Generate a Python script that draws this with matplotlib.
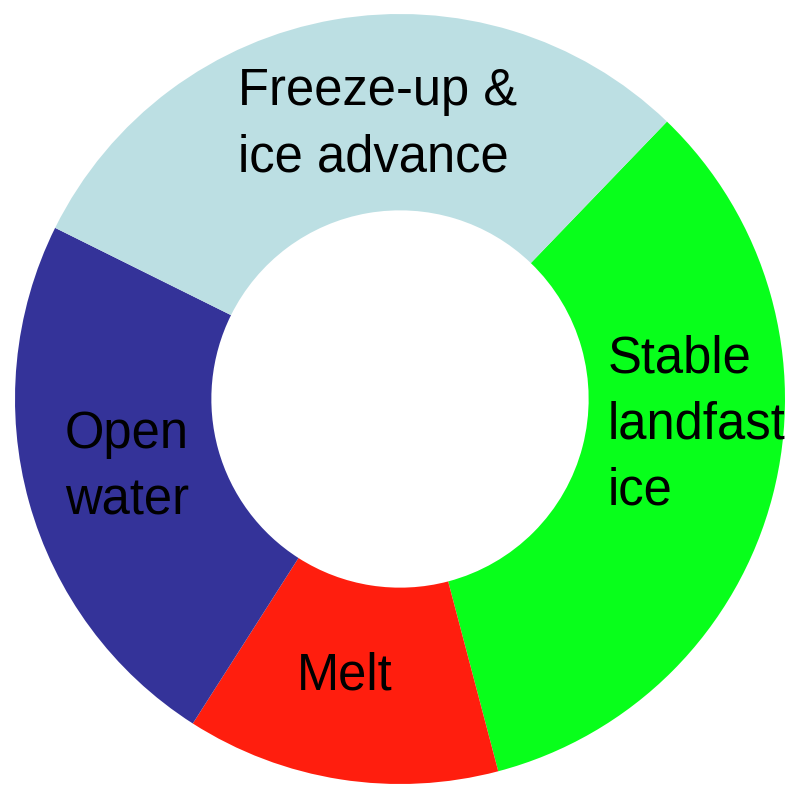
import matplotlib
matplotlib.use("Agg")
import matplotlib.pyplot as plt

# Data (approximate days in each phase of the annual cycle)
phases = ["Stable\nlandfast\nice", "Melt", "Open\nwater", "Freeze-up &\nice advance"]
days = [123, 48, 85, 109]
colors = ["#08FF1B", "#FF1E0E", "#343399", "#BCDFE3"]

W, H = 792, 786
fig = plt.figure(figsize=(W / 100, H / 100), dpi=100)
ax = fig.add_axes([0, 0, 1, 1])

R = 385.0
cx, cy = 400.0, 399.0

ax.pie(days, colors=colors, startangle=46.1, counterclock=False,
       radius=1.0, wedgeprops=dict(width=0.51, edgecolor="none", linewidth=0))

ax.set_xlim(-cx / R, (W - cx) / R)
ax.set_ylim(-(H - cy) / R, cy / R)
ax.set_aspect("auto")
ax.axis("off")

def px(x, y):
    return (x - cx) / R, (cy - y) / R

font = dict(family=["Liberation Sans", "DejaVu Sans"], fontsize=36.5, color="black",
            linespacing=1.45)

x, y = px(238, 125)
ax.text(x, y, phases[3], ha="left", va="center", multialignment="left", **font)
x, y = px(608, 425)
ax.text(x, y, phases[0], ha="left", va="center", multialignment="left", **font)
x, y = px(127, 468)
ax.text(x, y, phases[2], ha="center", va="center", multialignment="center", **font)
x, y = px(345, 676)
ax.text(x, y, phases[1], ha="center", va="center", **font)

fig.savefig("out.png", dpi=100)
